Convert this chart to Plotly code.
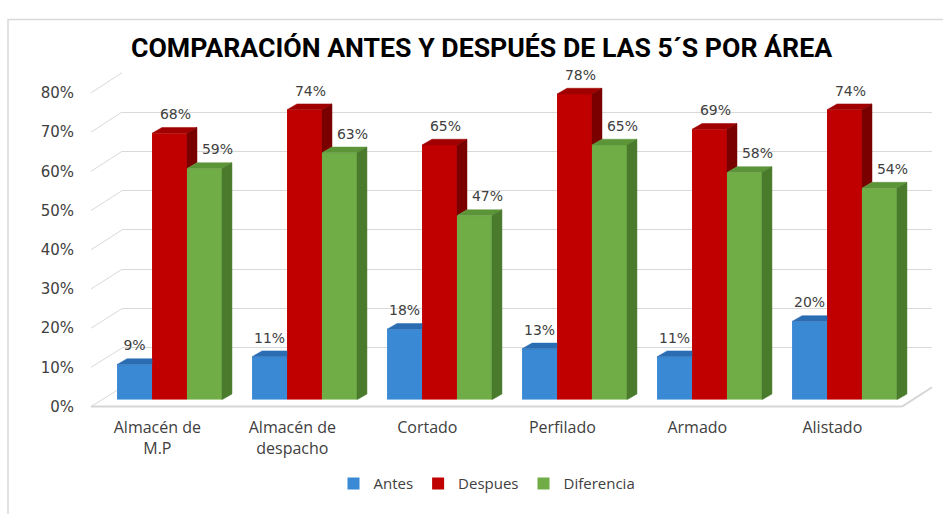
import plotly.graph_objects as go

# ---------------- data ----------------
categories = ["Almacén de<br>M.P", "Almacén de<br>despacho", "Cortado", "Perfilado", "Armado", "Alistado"]
antes = [0.09, 0.11, 0.18, 0.13, 0.11, 0.20]
despues = [0.68, 0.74, 0.65, 0.78, 0.69, 0.74]
diferencia = [0.59, 0.63, 0.47, 0.65, 0.58, 0.54]
series_names = ["Antes", "Despues", "Diferencia"]
y_ticks = [0, 0.1, 0.2, 0.3, 0.4, 0.5, 0.6, 0.7, 0.8]
y_tick_labels = ["0%", "10%", "20%", "30%", "40%", "50%", "60%", "70%", "80%"]
title_text = "COMPARACIÓN ANTES Y DESPUÉS DE LAS 5´S POR ÁREA"

# ---------------- geometry / style ----------------
W, H = 943, 514
def fx(p):
    return p / W
def fy(p):
    return (H - p) / H

YMAX = 0.8
LABEL_Y = (412, 87)        # front plane (tick labels) 0% / 80% rows
LABEL_X0 = 91              # front-left corner of the floor
BACK_Y = (392, 66)         # back wall 0% / 80% rows
BACK_X = (122, 932)
BAR_X = (102, 912)         # bar subplot
BAR_Y0 = 405               # bar baseline row
FLOOR_RIGHT = 902
BAR_RANGE_TOP = 0.9        # extra headroom so top labels are not culled

front_col = ["#3a89d4", "#c00000", "#70ad47"]
top_col = ["#2b6db3", "#a00000", "#5c9538"]
side_col = ["#1f4f85", "#7a0000", "#4a7a2c"]
label_shift_px = [0, 6, 13]   # data-label horizontal nudge per series

px_per_val = (LABEL_Y[0] - LABEL_Y[1]) / YMAX
BAR_Y1 = BAR_Y0 - BAR_RANGE_TOP * px_per_val

w = 0.259                                    # bar width (category units)
px_per_cat = (BAR_X[1] - BAR_X[0]) / 6
dx = 10 / px_per_cat                         # depth in x
dy = 6 / px_per_val                          # depth in y
label_pad = 5 / px_per_val

idx = list(range(len(categories)))
values = [antes, despues, diferencia]

fig = go.Figure()

# back wall subplot (gridlines) and front label subplot
fig.add_trace(go.Scatter(x=[None], y=[None], xaxis="x", yaxis="y",
                         showlegend=False, hoverinfo="skip"))
fig.add_trace(go.Scatter(x=[None], y=[None], xaxis="x3", yaxis="y3",
                         showlegend=False, hoverinfo="skip"))

# front faces
for k, (name, vals) in enumerate(zip(series_names, values)):
    fig.add_trace(go.Bar(
        x=idx, y=vals, name=name, width=w, offset=(k - 1.5) * w,
        marker=dict(color=front_col[k], line=dict(width=0)),
        xaxis="x2", yaxis="y2", hoverinfo="skip"))

def poly_trace(xs, ys, color):
    return go.Scatter(x=xs, y=ys, mode="lines", fill="toself", fillcolor=color,
                      line=dict(color=color, width=0.5), xaxis="x2", yaxis="y2",
                      showlegend=False, hoverinfo="skip", cliponaxis=False)

# blue top (clipped at the red front)
xs, ys = [], []
for i, v in zip(idx, antes):
    xl = i - 1.5 * w
    xr = xl + w
    xs += [xl, xl + dx, xr, xr, xl, None]
    ys += [v, v + dy, v + dy, v, v, None]
fig.add_trace(poly_trace(xs, ys, top_col[0]))

# red top
xs, ys = [], []
for i, v in zip(idx, despues):
    xl = i - 0.5 * w
    xr = xl + w
    xs += [xl, xl + dx, xr + dx, xr, xl, None]
    ys += [v, v + dy, v + dy, v, v, None]
fig.add_trace(poly_trace(xs, ys, top_col[1]))

# red side (visible part above green)
xs, ys = [], []
for i, vr, vg in zip(idx, despues, diferencia):
    xr = i + 0.5 * w
    xs += [xr, xr + dx, xr + dx, xr, xr, None]
    ys += [vg, vg + dy, vr + dy, vr, vg, None]
fig.add_trace(poly_trace(xs, ys, side_col[1]))

# green top
xs, ys = [], []
for i, v in zip(idx, diferencia):
    xl = i + 0.5 * w
    xr = xl + w
    xs += [xl, xl + dx, xr + dx, xr, xl, None]
    ys += [v, v + dy, v + dy, v, v, None]
fig.add_trace(poly_trace(xs, ys, top_col[2]))

# green side
xs, ys = [], []
for i, v in zip(idx, diferencia):
    xr = i + 1.5 * w
    xs += [xr, xr + dx, xr + dx, xr, xr, None]
    ys += [0, dy, v + dy, v, 0, None]
fig.add_trace(poly_trace(xs, ys, side_col[2]))

# data labels
for k, vals in enumerate(values):
    fig.add_trace(go.Scatter(
        x=[i + (k - 1) * w + label_shift_px[k] / px_per_cat for i in idx],
        y=[v + dy + label_pad for v in vals],
        mode="text", text=[f"{round(v * 100)}%" for v in vals],
        textposition="top center", cliponaxis=False,
        textfont=dict(family="DejaVu Sans", size=14, color="#404040"),
        xaxis="x2", yaxis="y2", showlegend=False, hoverinfo="skip"))

# ---------------- shapes (frame, floor, wall diagonals) ----------------
shapes = [dict(type="rect", xref="paper", yref="paper",
               x0=fx(8), x1=fx(960), y0=fy(530), y1=fy(11),
               line=dict(color="#d9d9d9", width=1.5), layer="below")]
for t in y_ticks:
    yf = LABEL_Y[0] - t / YMAX * (LABEL_Y[0] - LABEL_Y[1])
    yb = BACK_Y[0] - t / YMAX * (BACK_Y[0] - BACK_Y[1])
    shapes.append(dict(type="line", xref="paper", yref="paper",
                       x0=fx(LABEL_X0), y0=fy(yf), x1=fx(BACK_X[0]), y1=fy(yb),
                       line=dict(color="#d9d9d9", width=1), layer="below"))
# floor front edge and right edge
shapes.append(dict(type="line", xref="paper", yref="paper",
                   x0=fx(LABEL_X0), y0=fy(LABEL_Y[0]), x1=fx(FLOOR_RIGHT), y1=fy(LABEL_Y[0]),
                   line=dict(color="#d6d6d6", width=2), layer="below"))
shapes.append(dict(type="line", xref="paper", yref="paper",
                   x0=fx(FLOOR_RIGHT), y0=fy(LABEL_Y[0]), x1=fx(BACK_X[1]), y1=fy(BACK_Y[0]),
                   line=dict(color="#d6d6d6", width=2), layer="below"))

fig.update_layout(
    width=W, height=H,
    margin=dict(l=0, r=0, t=0, b=0),
    paper_bgcolor="white", plot_bgcolor="rgba(0,0,0,0)",
    barmode="overlay",
    showlegend=True,
    legend=dict(orientation="h", x=fx(487), xanchor="center", y=fy(492), yanchor="middle",
                font=dict(family="Open Sans", size=15, color="#404040"),
                itemwidth=30, traceorder="normal", bgcolor="rgba(0,0,0,0)"),
    # back wall
    xaxis=dict(domain=[fx(BACK_X[0]), fx(BACK_X[1])], range=[0, 1],
               visible=False, anchor="y"),
    yaxis=dict(domain=[fy(BACK_Y[0]), fy(BACK_Y[1])], range=[0, YMAX],
               tickvals=y_ticks, showticklabels=False, showgrid=True,
               gridcolor="#d9d9d9", gridwidth=1, zeroline=False, anchor="x", ticks=""),
    # bars
    xaxis2=dict(domain=[fx(BAR_X[0]), fx(BAR_X[1])], range=[-0.5, 5.5],
                tickvals=[i - 0.09 for i in idx], ticktext=categories,
                tickfont=dict(family="Open Sans", size=16, color="#404040"),
                showgrid=False, zeroline=False, showline=False, ticks="",
                ticklabelstandoff=16, anchor="y2"),
    yaxis2=dict(domain=[fy(BAR_Y0), fy(BAR_Y1)], range=[0, BAR_RANGE_TOP],
                visible=False, anchor="x2"),
    # front tick labels
    xaxis3=dict(domain=[fx(LABEL_X0 + 6), fx(BAR_X[1])], range=[0, 1],
                visible=False, anchor="y3"),
    yaxis3=dict(domain=[fy(LABEL_Y[0]), fy(LABEL_Y[1])], range=[0, YMAX],
                tickvals=y_ticks, ticktext=y_tick_labels,
                tickfont=dict(family="DejaVu Sans", size=15, color="#404040"),
                showgrid=False, zeroline=False, showline=False, ticks="",
                ticklabelstandoff=22, anchor="x3"),
    annotations=[dict(text=f"<b>{title_text}</b>", xref="paper", yref="paper",
                      x=fx(482), y=fy(40), xanchor="center", yanchor="middle",
                      showarrow=False,
                      font=dict(family="Roboto", size=26.7, color="#000000"))],
    shapes=shapes,
)

fig.write_html("out.html", config={"displayModeBar": False},
               post_script="document.body.style.margin='0';document.body.style.overflow='hidden';")
